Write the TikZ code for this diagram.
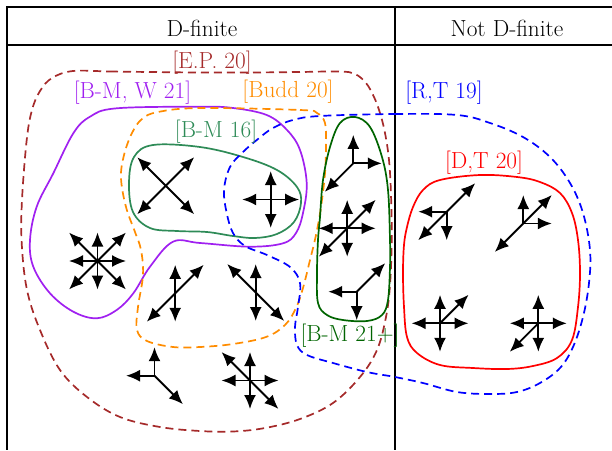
\documentclass[tikz,border=0pt]{standalone}
\usetikzlibrary{arrows.meta}
\definecolor{epcol}{RGB}{165,42,42}
\definecolor{bmwcol}{RGB}{160,32,240}
\definecolor{buddcol}{RGB}{255,140,0}
\definecolor{bmsixcol}{RGB}{46,139,87}
\definecolor{rtcol}{RGB}{0,0,255}
\definecolor{bmtwocol}{RGB}{0,100,0}
\definecolor{dtcol}{RGB}{255,0,0}
\newcommand{\stepdirs}[2]{\foreach \dx/\dy in {#2} {\draw[steparrow] (#1) -- ++(28.5*\dx,28.5*\dy);}}
\begin{document}
\begin{tikzpicture}[x=1pt,y=-1pt,
  lab/.style={font=\fontsize{23.3}{28}\selectfont, inner sep=0pt},
  grid/.style={line width=2pt},
  contour/.style={line width=1.7pt},
  dashc/.style={contour, dash pattern=on 8pt off 5pt},
  steparrow/.style={line width=1.9pt, -{Latex[length=14pt,width=12pt]}}]
\useasboundingbox (0,0) rectangle (612,450);
% table
\coordinate (tl) at (7,7);
\coordinate (tr) at (612,7);
\coordinate (hl) at (7,45);
\coordinate (hr) at (612,45);
\coordinate (bl) at (7,450);
\coordinate (dt) at (395,7);
\coordinate (db) at (395,450);
\draw[grid] (tr) -- (tl) -- (bl);
\draw[grid] (hl) -- (hr);
\draw[grid] (dt) -- (db);
\node[lab, anchor=base] (hd) at (202,36.7) {D-finite};
\node[lab, anchor=base] (hn) at (507,36.7) {Not D-finite};
% contours
\draw[dashc, epcol] plot[smooth cycle, tension=0.6] coordinates {(73,71) (110,71.5) (150,72) (200,72.5) (250,72.5) (300,72) (340,71.5) (355,74) (366,83) (374,97) (380,113) (385,133) (389,160) (391,195) (391.7,240) (390,285) (386,317) (377,350) (360,377) (333,403) (300,419) (265,428) (233,431.5) (200,431) (160,427) (120,417) (87,397) (60,370) (40,330) (27,290) (21.7,243) (22,200) (26.7,140) (32,110) (40,91) (52,78)};
\draw[contour, bmwcol] plot[smooth cycle, tension=0.6] coordinates {(200,106.7) (233,108) (266.7,115) (287,130) (300,150) (306.7,183) (303,213) (296,233) (283,243.3) (250,246.7) (200,243) (173,241.7) (150,266.7) (133.3,293.3) (116.7,310) (96.7,318.3) (73.3,311.7) (50,293.3) (33.3,266.7) (30,240) (36.7,206.7) (53.3,173.3) (73.3,133.3) (90,116.7) (116.7,108.3)};
\draw[contour, bmsixcol] plot[smooth cycle, tension=0.6] coordinates {(153,145) (200,147) (243,157) (277,170) (297,187) (301,203) (294,222) (277,234) (255,238) (233,236) (207,232) (177,231) (150,228) (133,212) (129,183) (134,157)};
\draw[dashc, buddcol] plot[smooth cycle, tension=0.6] coordinates {(200,108) (300,110) (317,113) (325,123) (326,145) (325,173) (321,207) (316,235) (310,260) (303,288) (296,308) (285,325) (266,337) (233,344) (200,347) (173,347) (147,341) (137,330) (138,307) (143,275) (141,250) (135,232) (126,207) (121,178) (124,155) (132,133) (142,119) (158,112)};
\draw[dashc, rtcol] plot[smooth cycle, tension=0.6] coordinates {(320,116) (395,114) (457,115) (490,123) (523,137) (550,157) (570,183) (583,213) (590,250) (589,283) (583,317) (573,347) (560,368) (540,383) (517,392) (490,394) (457,392) (423,383) (395,377) (367,372) (333,363) (307,355) (297,345) (295,327) (298,307) (300,283) (290,267) (267,255) (245,246) (233,233) (226.7,213) (224,190) (230,167) (243,152) (258,139) (273,128) (293,120)};
\draw[contour, bmtwocol] plot[smooth cycle, tension=0.6] coordinates {(355,117) (370,127) (382,157) (388,190) (390,240) (390,267) (388,300) (382,315) (367,321) (343,320) (327,315) (318,303) (317,273) (318,240) (320,217) (323,180) (330,147) (340,123)};
\draw[contour, dtcol] plot[smooth cycle, tension=0.6] coordinates {(480,175) (517,177) (540,182) (560,193) (572,213) (578,240) (580,273) (578,307) (572,340) (557,358) (533,366) (507,369) (473,368) (440,365) (417,353) (407,337) (404,307) (403,273) (404,245) (407,227) (413,207) (423,190) (440,180)};
% labels
\node[lab, text=epcol] (lep) at (212,62.5) {[E.P. 20]};
\node[lab, text=bmwcol] (lbmw) at (132.5,92.5) {[B-M, W 21]};
\node[lab, text=buddcol] (lbudd) at (288,92) {[Budd 20]};
\node[lab, text=rtcol] (lrt) at (444,93) {[R,T 19]};
\node[lab, text=bmsixcol] (lbms) at (216,132) {[B-M 16]};
\node[lab, text=dtcol] (ldt) at (484,162.5) {[D,T 20]};
\node[lab, text=bmtwocol] (lbmt) at (350,336) {[B-M 21+]};
% step sets
\coordinate (s1) at (165.7,185.7);
\coordinate (s2) at (270.7,199.5);
\coordinate (s3) at (97.5,261);
\coordinate (s4) at (175.2,293.3);
\coordinate (s5) at (255.7,292.5);
\coordinate (s6) at (154.5,375.7);
\coordinate (s7) at (250,380.5);
\coordinate (s8) at (353.3,163.3);
\coordinate (s9) at (347.2,228.3);
\coordinate (s10) at (356.7,291.7);
\coordinate (s11) at (446.7,211.7);
\coordinate (s12) at (523.3,223.5);
\coordinate (s13) at (440,323.3);
\coordinate (s14) at (538.3,323.3);
\stepdirs{s1}{1/-1,-1/-1,1/1,-1/1}
\stepdirs{s2}{0/-1,0/1,1/0,-1/0}
\stepdirs{s3}{0/-1,0/1,1/0,-1/0,1/-1,-1/-1,1/1,-1/1}
\stepdirs{s4}{0/-1,0/1,1/-1,-1/1}
\stepdirs{s5}{0/-1,0/1,-1/-1,1/1}
\stepdirs{s6}{0/-1,-1/0,1/1}
\stepdirs{s7}{0/-1,0/1,1/0,-1/0,-1/-1,1/1}
\stepdirs{s8}{0/-1,1/0,-1/1}
\stepdirs{s9}{0/-1,0/1,1/0,-1/0,1/-1,-1/1}
\stepdirs{s10}{-1/0,0/1,1/-1}
\stepdirs{s11}{-1/0,0/1,1/-1,-1/1}
\stepdirs{s12}{0/-1,1/0,1/-1,-1/1}
\stepdirs{s13}{0/-1,0/1,1/0,-1/0,1/-1}
\stepdirs{s14}{0/-1,0/1,1/0,-1/0,-1/1}
\end{tikzpicture}
\end{document}
